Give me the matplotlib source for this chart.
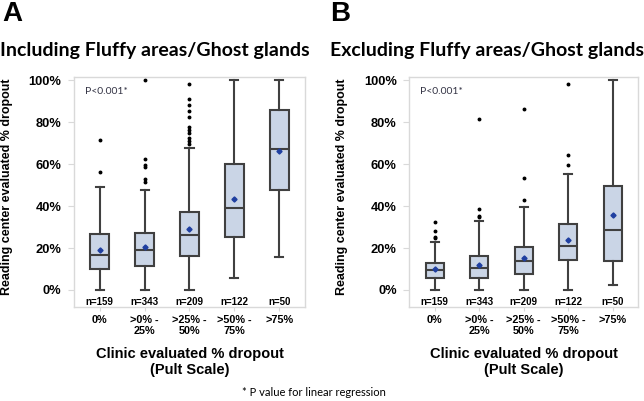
import matplotlib
matplotlib.use("Agg")
import matplotlib.pyplot as plt

categories = ["0%", ">0% -\n25%", ">25% -\n50%", ">50% -\n75%", ">75%"]
n_labels = ["n=159", "n=343", "n=209", "n=122", "n=50"]

# Panel A: Including fluffy areas / ghost glands
a_whislo = [0, 0, 0, 5.9, 15.9]
a_q1 = [10.2, 11.3, 16.3, 25.4, 47.6]
a_med = [16.7, 19.0, 26.0, 38.9, 67.0]
a_q3 = [26.5, 27.1, 37.1, 60.0, 85.6]
a_whishi = [49.2, 47.6, 67.8, 100, 100]
a_mean = [19.0, 20.6, 29.0, 43.3, 66.2]
a_fliers = [
    [56.3, 71.4],
    [51.3, 52.7, 58.5, 59.4, 62.2, 100],
    [69.5, 71.0, 72.5, 74.6, 76.2, 77.8, 82.4, 85.4, 88.1, 90.8, 98.1],
    [],
    [],
]

# Panel B: Excluding fluffy areas / ghost glands
b_whislo = [0, 0, 0, 0, 2.4]
b_q1 = [5.9, 5.7, 7.5, 14.3, 13.8]
b_med = [9.4, 10.5, 13.8, 20.8, 28.6]
b_q3 = [12.9, 16.3, 20.5, 31.3, 49.4]
b_whishi = [22.9, 32.7, 39.4, 55.4, 100]
b_mean = [10.2, 12.0, 15.2, 23.7, 35.9]
b_fliers = [
    [24.6, 25.4, 28.1, 32.4],
    [34.6, 35.4, 38.7, 81.3],
    [42.9, 53.5, 86.2],
    [59.7, 64.1, 98.1],
    [],
]

ytick_vals = [0, 20, 40, 60, 80, 100]
ytick_labels = ["0%", "20%", "40%", "60%", "80%", "100%"]

BOX_FILL = "#CAD5E6"
EDGE = "#404040"
FRAME = "#D9D9D9"

fig = plt.figure(figsize=(6.44, 4.01), dpi=100)

def draw(ax, whislo, q1, med, q3, whishi, mean, fliers, ylab_x):
    stats = []
    for i in range(len(categories)):
        stats.append(dict(whislo=whislo[i], q1=q1[i], med=med[i], q3=q3[i],
                          whishi=whishi[i], mean=mean[i], fliers=fliers[i]))
    pos = list(range(1, len(categories) + 1))
    ax.bxp(stats, positions=pos, widths=0.41, patch_artist=True, showmeans=True,
           boxprops=dict(facecolor=BOX_FILL, edgecolor=EDGE, linewidth=1.5),
           medianprops=dict(color=EDGE, linewidth=1.5),
           whiskerprops=dict(color=EDGE, linewidth=1.5),
           capprops=dict(color=EDGE, linewidth=1.5),
           capwidths=0.18,
           meanprops=dict(marker="D", markersize=2.6, markerfacecolor="#1F3FA0",
                          markeredgecolor="#1F3FA0"),
           flierprops=dict(marker="o", markersize=1.8, markerfacecolor="black",
                           markeredgecolor="black"))
    ax.set_xlim(0.43, 5.57)
    ax.set_ylim(-7.95, 101.6)
    ax.set_yticks(ytick_vals)
    ax.set_yticklabels(ytick_labels, fontsize=9.3, fontweight="bold",
                       family="Liberation Sans")
    ax.set_xticks(pos)
    ax.set_xticklabels(categories, fontsize=7.8, fontweight="bold",
                       family="Liberation Sans", linespacing=1.1)
    ax.tick_params(axis="y", length=4, color=FRAME, pad=5)
    ax.tick_params(axis="x", length=3, color=FRAME, pad=3)
    for s in ax.spines.values():
        s.set_color(FRAME)
        s.set_linewidth(1.0)
    for i, t in enumerate(n_labels):
        ax.text(pos[i], -5.7, t, ha="center", va="center", fontsize=7,
                fontweight="bold", family="Liberation Sans")
    ax.text(0.047, 0.935, "P<0.001*", transform=ax.transAxes, fontsize=7.5,
            family="Lato", color="#333344", ha="left", va="center")
    ax.set_ylabel("Reading center evaluated % dropout", fontsize=9,
                  fontweight="bold", family="Liberation Sans")
    ax.yaxis.set_label_coords(ylab_x, 0.52)
    ax.set_xlabel("Clinic evaluated % dropout\n(Pult Scale)", fontsize=10.5,
                  fontweight="bold", family="Liberation Sans", labelpad=8,
                  linespacing=1.15)

axA = fig.add_axes([0.1149, 0.2352, 0.3587, 0.5736])
axB = fig.add_axes([0.6356, 0.2352, 0.3551, 0.5736])
draw(axA, a_whislo, a_q1, a_med, a_q3, a_whishi, a_mean, a_fliers, -0.262)
draw(axB, b_whislo, b_q1, b_med, b_q3, b_whishi, b_mean, b_fliers, -0.27)

fig.text(0.003, 0.997, "A", fontsize=20, fontweight="bold", family="Liberation Sans",
         ha="left", va="top")
fig.text(0.512, 0.997, "B", fontsize=20, fontweight="bold", family="Liberation Sans",
         ha="left", va="top")
fig.text(0.0, 0.873, "Including Fluffy areas/Ghost glands", fontsize=14,
         fontweight="bold", family="Lato", ha="left", va="center")
fig.text(0.512, 0.873, "Excluding Fluffy areas/Ghost glands", fontsize=14,
         fontweight="bold", family="Lato", ha="left", va="center")
fig.text(0.488, 0.02, "* P value for linear regression", fontsize=8,
         family="Lato", ha="center", va="center")

fig.savefig("out.png", dpi=100)
